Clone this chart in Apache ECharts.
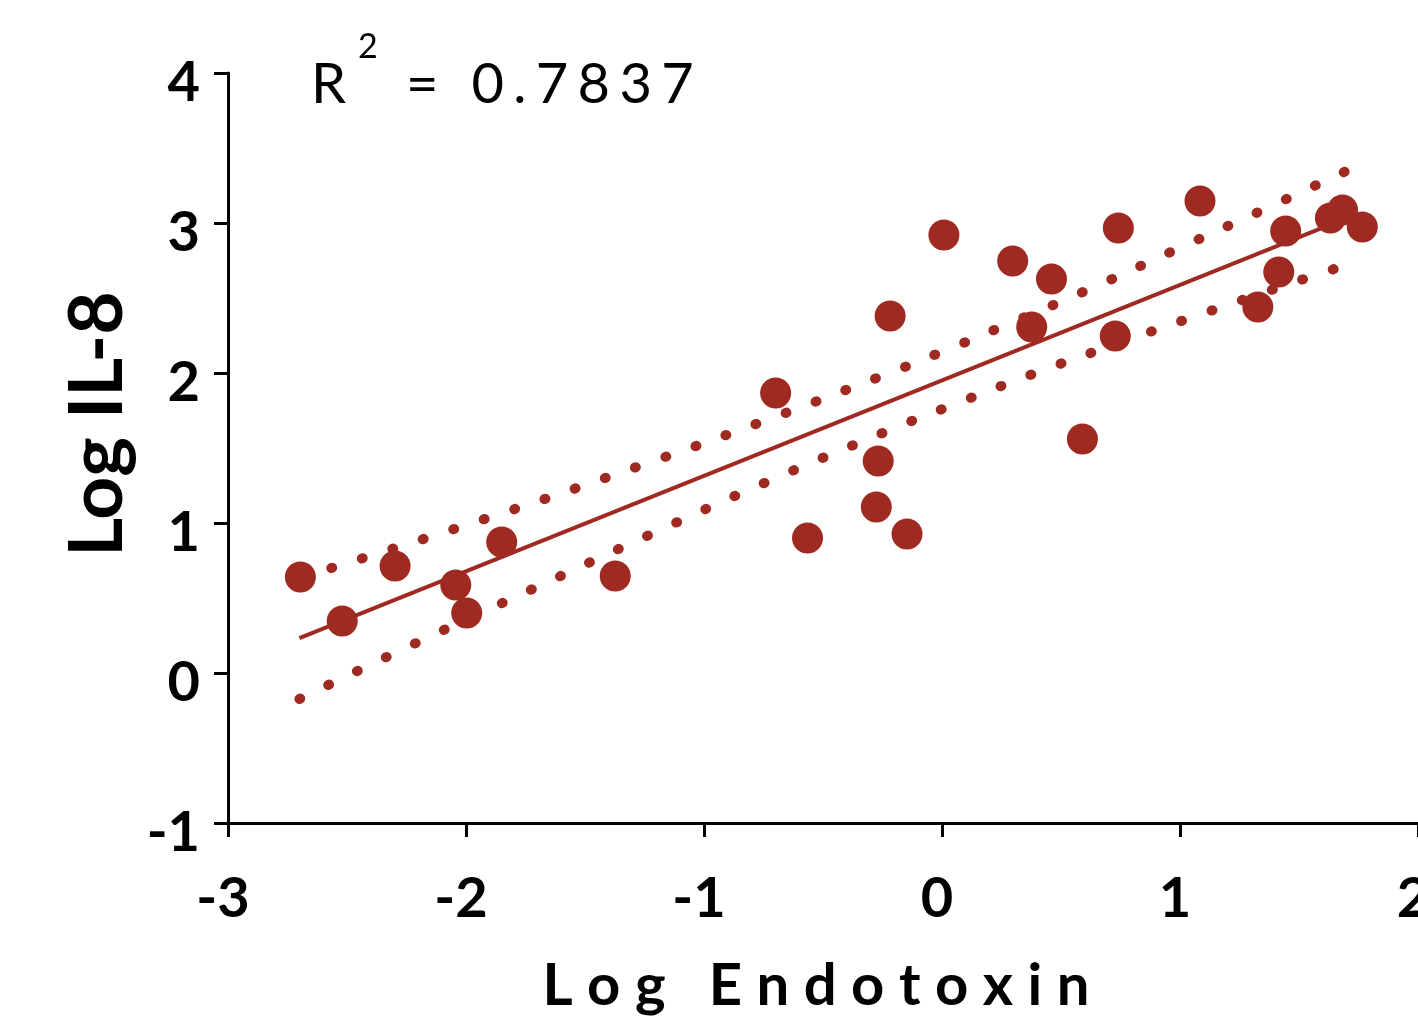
<!DOCTYPE html>
<html>
<head>
<meta charset="utf-8">
<script src="https://cdn.jsdelivr.net/npm/echarts@6/dist/echarts.min.js"></script>
<style>
html, body { margin: 0; padding: 0; background: #fff; }
#chart { width: 1418px; height: 1024px; }
</style>
</head>
<body>
<div id="chart"></div>
<script>
var red = '#9f2a22';

// measured points (log endotoxin, log IL-8)
var endotoxin = [-2.696, -2.520, -2.298, -2.043, -1.997, -1.850, -1.373, -0.699, -0.565, -0.268,
  -0.276, -0.218, -0.147, 0.008, 0.297, 0.377, 0.460, 0.590, 0.728, 0.741,
  1.084, 1.327, 1.415, 1.444, 1.632, 1.683, 1.766];
var il8 = [0.640, 0.347, 0.713, 0.587, 0.400, 0.873, 0.647, 1.867, 0.900, 1.413,
  1.107, 2.380, 0.927, 2.920, 2.747, 2.307, 2.627, 1.560, 2.247, 2.967,
  3.147, 2.440, 2.673, 2.947, 3.033, 3.087, 2.973];

// regression line ends
var fitX = [-2.700, 1.700];
var fitY = [0.233, 3.033];

// dotted confidence bands
var upperX = [-2.566, -1.921, -1.272, -0.770, -0.264, -0.013, 0.239, 0.611, 0.979, 1.348, 1.716];
var upperY = [0.700, 1.027, 1.380, 1.667, 1.973, 2.133, 2.300, 2.553, 2.820, 3.087, 3.360];
var lowerX = [-2.700, -2.210, -1.720, -1.231, -0.737, -0.239, 0.013, 0.393, 0.649, 1.030, 1.545, 1.674];
var lowerY = [-0.173, 0.200, 0.560, 0.920, 1.273, 1.607, 1.767, 2.000, 2.147, 2.360, 2.640, 2.707];

var rSquared = '0.7837';

function zip(a, b) {
  return a.map(function (v, i) { return [v, b[i]]; });
}
function spaced(s, sp) {
  return s.split('').join(sp);
}

var chart = echarts.init(document.getElementById('chart'));

var axisStyle = {
  axisLine: { show: true, onZero: false, lineStyle: { color: '#000', width: 3 } },
  axisTick: { show: true, inside: false, length: 14, lineStyle: { color: '#000', width: 3 } },
  splitLine: { show: false }
};

var option = {
  animation: false,
  backgroundColor: '#fff',
  grid: { left: 228, right: 0, top: 73, bottom: 201, containLabel: false, outerBoundsMode: 'none' },
  xAxis: Object.assign({
    type: 'value',
    min: -3,
    max: 2,
    interval: 1,
    name: spaced('Log Endotoxin', '\u2005'),
    nameLocation: 'middle',
    nameGap: 134,
    nameTextStyle: {
      fontFamily: 'Lato', fontWeight: 'bold', fontSize: 58, color: '#000',
      padding: [0, 14, 0, 0]
    },
    axisLabel: {
      margin: 48,
      fontFamily: 'Lato', fontWeight: 'bold', fontSize: 56, color: '#000',
      padding: [0, 10, 0, 0]
    }
  }, axisStyle),
  yAxis: Object.assign({
    type: 'value',
    min: -1,
    max: 4,
    interval: 1,
    name: 'Log IL-8',
    nameLocation: 'middle',
    nameRotate: 90,
    nameGap: 93,
    nameTextStyle: {
      fontFamily: 'Lato', fontWeight: 'bold', fontSize: 75, color: '#000',
      padding: [0, 0, 0, 48]
    },
    axisLabel: {
      margin: 28,
      fontFamily: 'Lato', fontWeight: 'bold', fontSize: 56, color: '#000',
      verticalAlign: 'top',
      lineHeight: 20
    }
  }, axisStyle),
  graphic: [
    {
      type: 'text',
      style: { text: 'R', x: 311, y: 57, textAlign: 'left', textVerticalAlign: 'top',
        font: '56px Lato', fill: '#000' }
    },
    {
      type: 'text',
      style: { text: '2', x: 358, y: 30, textAlign: 'left', textVerticalAlign: 'top',
        font: '34px Lato', fill: '#000' }
    },
    {
      type: 'text',
      style: { text: '= \u2004' + spaced(rSquared, '\u2006'), x: 406, y: 57, textAlign: 'left',
        textVerticalAlign: 'top', font: '56px Lato', fill: '#000' }
    }
  ],
  series: [
    {
      type: 'line',
      data: zip(upperX, upperY),
      smooth: true,
      symbol: 'none',
      lineStyle: { color: red, width: 10, type: [1, 31], cap: 'round' },
      z: 2
    },
    {
      type: 'line',
      data: zip(lowerX, lowerY),
      smooth: true,
      symbol: 'none',
      lineStyle: { color: red, width: 10, type: [1, 31], cap: 'round' },
      z: 2
    },
    {
      type: 'line',
      data: zip(fitX, fitY),
      symbol: 'none',
      lineStyle: { color: red, width: 4 },
      z: 3
    },
    {
      type: 'scatter',
      data: zip(endotoxin, il8),
      symbol: 'circle',
      symbolSize: 31,
      itemStyle: { color: red, opacity: 1 },
      z: 4
    }
  ]
};

chart.setOption(option);
</script>
</body>
</html>
